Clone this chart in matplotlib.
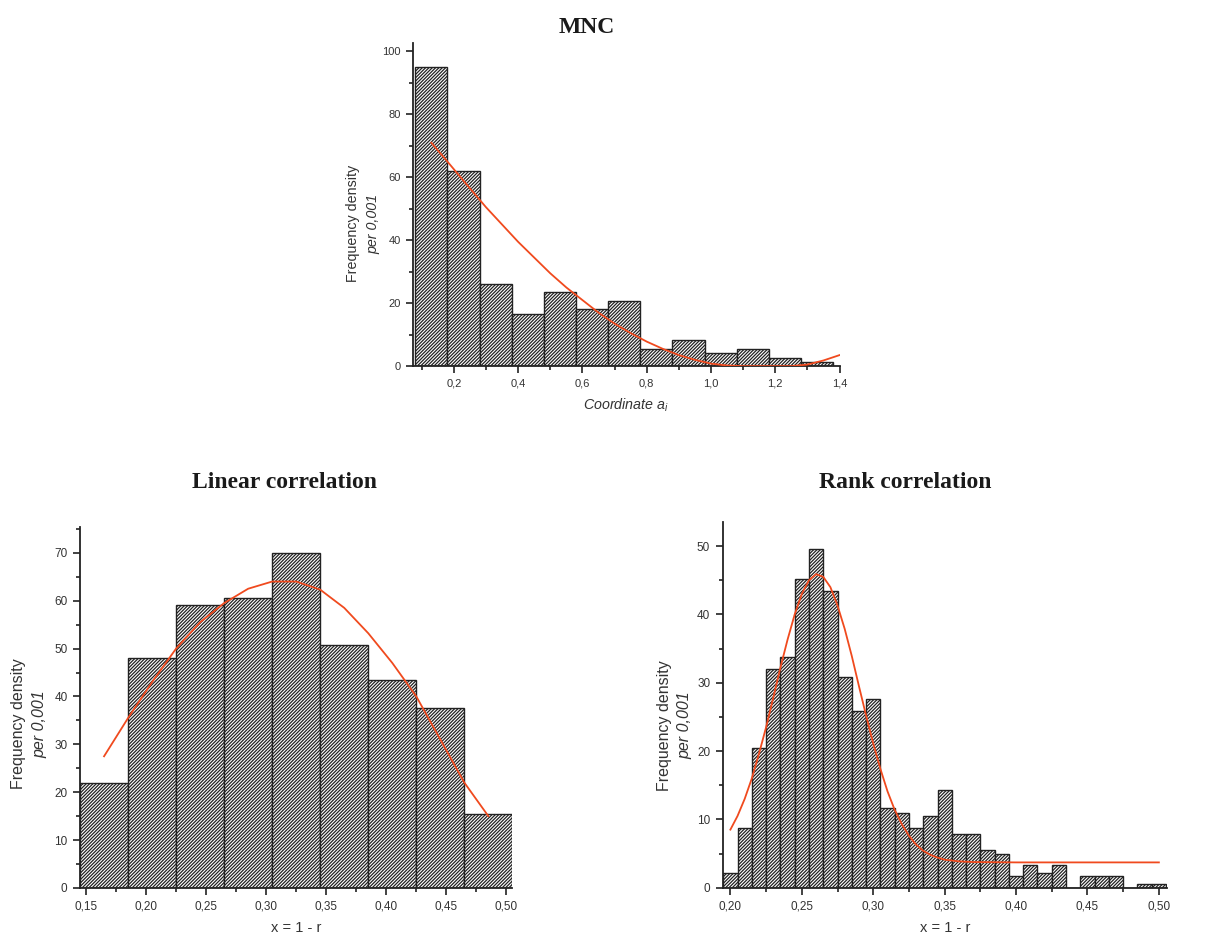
# histograms with fitted curves: MNC, linear and rank correlation

import matplotlib
matplotlib.use("Agg")
import matplotlib.pyplot as plt
from matplotlib.ticker import MultipleLocator, FuncFormatter

plt.rcParams['font.family'] = ['Liberation Sans', 'DejaVu Sans']
plt.rcParams['mathtext.fontset'] = 'custom'
plt.rcParams['mathtext.it'] = 'Liberation Sans:italic'
plt.rcParams['mathtext.rm'] = 'Liberation Sans'
plt.rcParams['hatch.linewidth'] = 0.9

# --- MNC ---
mnc_edges = [0.08, 0.18, 0.28, 0.38, 0.48, 0.58, 0.68, 0.78, 0.88, 0.98, 1.08, 1.18, 1.28]
mnc_heights = [95, 62, 26, 16.5, 23.5, 18, 20.7, 5.5, 8.3, 4.2, 5.5, 2.7, 1.4]
mnc_curve_x = [0.13, 0.18, 0.25, 0.30, 0.35, 0.40, 0.45, 0.50, 0.55, 0.60, 0.65, 0.70, 0.75,
               0.80, 0.85, 0.90, 0.95, 1.00, 1.05, 1.10, 1.15, 1.20, 1.25, 1.30, 1.35, 1.40]
mnc_curve_y = [71, 65, 56.5, 50.5, 45, 39.5, 34.5, 29.5, 25, 21, 17, 13.5, 10.5,
               7.8, 5.5, 3.5, 2, 0.8, 0.2, 0, 0, 0, 0, 0.5, 1.8, 3.5]

# --- Linear correlation ---
lin_edges = [0.145, 0.185, 0.225, 0.265, 0.305, 0.345, 0.385, 0.425, 0.465]
lin_heights = [22, 48, 59, 60.6, 70, 50.7, 43.5, 37.5, 15.5]
lin_curve_x = [0.165, 0.185, 0.205, 0.225, 0.245, 0.265, 0.285, 0.305, 0.325,
               0.345, 0.365, 0.385, 0.405, 0.425, 0.445, 0.465, 0.485]
lin_curve_y = [27.5, 35.5, 43, 50, 55.5, 59.5, 62.5, 64, 64,
               62.3, 58.5, 53.2, 47, 40, 31, 22, 15]

# --- Rank correlation ---
rank_edges = [0.195, 0.205, 0.215, 0.225, 0.235, 0.245, 0.255, 0.265, 0.275, 0.285,
              0.295, 0.305, 0.315, 0.325, 0.335, 0.345, 0.355, 0.365, 0.375, 0.385,
              0.395, 0.405, 0.415, 0.425, 0.435, 0.445, 0.455, 0.465, 0.475, 0.485, 0.495]
rank_heights = [2.2, 8.8, 20.4, 32.0, 33.7, 45.2, 49.6, 43.5, 30.9, 25.9,
                27.6, 11.6, 11.0, 8.8, 10.5, 14.3, 7.8, 7.8, 5.5, 5.0,
                1.7, 3.3, 2.2, 3.3, 0, 1.7, 1.7, 1.7, 0, 0.55, 0.55]
rank_curve_x = [0.200, 0.205, 0.210, 0.215, 0.220, 0.225, 0.230, 0.235, 0.240, 0.245,
                0.250, 0.255, 0.260, 0.265, 0.270, 0.275, 0.280, 0.285, 0.290, 0.295,
                0.300, 0.305, 0.310, 0.315, 0.320, 0.325, 0.330, 0.335, 0.340, 0.345,
                0.350, 0.360, 0.370, 0.400, 0.450, 0.500]
rank_curve_y = [8.5, 10.5, 13.0, 16.0, 19.6, 23.5, 27.8, 32.2, 36.3, 40.0,
                43.0, 45.0, 45.9, 45.5, 44.0, 41.3, 37.9, 33.9, 29.5, 25.2,
                21.1, 17.4, 14.1, 11.4, 9.3, 7.6, 6.3, 5.4, 4.8, 4.4,
                4.1, 3.85, 3.75, 3.7, 3.7, 3.7]

RED = '#f04a1e'
INK = '#222222'


def comma_fmt(nd):
    return FuncFormatter(lambda v, p: ('{:.%df}' % nd).format(v).replace('.', ','))


def style_axes(ax, tick_size):
    for s in ['top', 'right']:
        ax.spines[s].set_visible(False)
    for s in ['left', 'bottom']:
        ax.spines[s].set_linewidth(1.3)
        ax.spines[s].set_color(INK)
    ax.tick_params(which='major', direction='out', length=5, width=1.2, pad=4,
                   colors=INK, labelsize=tick_size, labelcolor='#333333')
    ax.tick_params(which='minor', direction='out', length=3, width=1.2, colors=INK)


def draw_hist(ax, edges, heights, width):
    ax.bar(edges, heights, width=width, align='edge', facecolor='white',
           edgecolor=INK, linewidth=1.0, hatch='//////////', zorder=2)


def ylabel_two_lines(ax, x1, x2, y, size):
    ax.text(x1, y, 'Frequency density', transform=ax.transAxes, rotation=90,
            ha='center', va='center', fontsize=size, color='#333333')
    ax.text(x2, y, 'per 0,001', transform=ax.transAxes, rotation=90,
            ha='center', va='center', fontsize=size, color='#333333', style='italic')


fig = plt.figure(figsize=(12.22, 9.34), dpi=100)

# top: MNC
ax1 = fig.add_axes([0.338, 0.608, 0.349, 0.346])
draw_hist(ax1, mnc_edges, mnc_heights, 0.1)
ax1.plot(mnc_curve_x, mnc_curve_y, color=RED, lw=1.3, zorder=3)
ax1.set_xlim(0.073, 1.4)
ax1.set_ylim(0, 102.7)
ax1.xaxis.set_major_locator(MultipleLocator(0.2))
ax1.xaxis.set_minor_locator(MultipleLocator(0.1))
ax1.yaxis.set_major_locator(MultipleLocator(20))
ax1.yaxis.set_minor_locator(MultipleLocator(10))
ax1.xaxis.set_major_formatter(comma_fmt(1))
style_axes(ax1, 8)
ax1.set_xlabel('Coordinate $a_i$', fontsize=10.3, style='italic', color='#333333', labelpad=6)
ylabel_two_lines(ax1, -0.1405, -0.0937, 0.44, 10.3)

# bottom left: linear correlation
ax2 = fig.add_axes([0.0655, 0.0493, 0.3535, 0.3865])
draw_hist(ax2, lin_edges, lin_heights, 0.04)
ax2.plot(lin_curve_x, lin_curve_y, color=RED, lw=1.3, zorder=3)
ax2.set_xlim(0.145, 0.5047)
ax2.set_ylim(0, 75.4)
ax2.xaxis.set_major_locator(MultipleLocator(0.05))
ax2.xaxis.set_minor_locator(MultipleLocator(0.025))
ax2.yaxis.set_major_locator(MultipleLocator(10))
ax2.yaxis.set_minor_locator(MultipleLocator(5))
ax2.xaxis.set_major_formatter(comma_fmt(2))
style_axes(ax2, 8.5)
ax2.set_xlabel('x = 1 - r', fontsize=10.5, color='#333333', labelpad=6)
ylabel_two_lines(ax2, -0.1435, -0.0926, 0.454, 11.5)

# bottom right: rank correlation
ax3 = fig.add_axes([0.5914, 0.0496, 0.3635, 0.392])
draw_hist(ax3, rank_edges, rank_heights, 0.01)
ax3.plot(rank_curve_x, rank_curve_y, color=RED, lw=1.3, zorder=3)
ax3.set_xlim(0.1946, 0.5056)
ax3.set_ylim(0, 53.6)
ax3.xaxis.set_major_locator(MultipleLocator(0.05))
ax3.xaxis.set_minor_locator(MultipleLocator(0.025))
ax3.yaxis.set_major_locator(MultipleLocator(10))
ax3.yaxis.set_minor_locator(MultipleLocator(5))
ax3.xaxis.set_major_formatter(comma_fmt(2))
style_axes(ax3, 8.5)
ax3.set_xlabel('x = 1 - r', fontsize=10.5, color='#333333', labelpad=6)
ylabel_two_lines(ax3, -0.13, -0.085, 0.443, 11.5)

# titles
title_font = dict(family=['Liberation Serif', 'DejaVu Serif'], weight='bold', fontsize=17,
                  ha='center', va='baseline', color='#1a1a1a')
fig.text(587 / 1222, 1 - 33 / 934, 'MNC', **title_font)
fig.text(285 / 1222, 1 - 488 / 934, 'Linear correlation', **title_font)
fig.text(905 / 1222, 1 - 488 / 934, 'Rank correlation', **title_font)

fig.savefig('out.png', dpi=100)
